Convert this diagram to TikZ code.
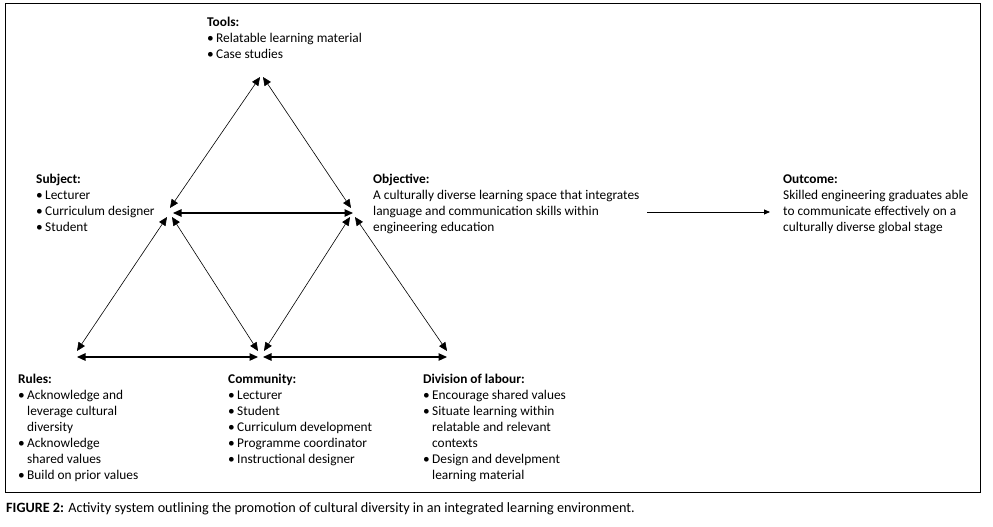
\documentclass[tikz,border=0pt]{standalone}
\usepackage{fontspec}
\setmainfont{Carlito}
\usetikzlibrary{arrows.meta}
\newcommand\bitem{\makebox[9pt][l]{\textbullet}}
\newcommand\bcont{\hspace*{9pt}}
\begin{document}
\begin{tikzpicture}[x=1pt,y=-1pt,
  txt/.style={anchor=base west,inner sep=0pt,font=\fontsize{13.35}{16}\selectfont},
  dline/.style={line width=0.6pt,{Triangle[length=8.5pt,width=7.5pt]}-{Triangle[length=8.5pt,width=7.5pt]}},
  hline/.style={line width=1.1pt,{Triangle[length=8.5pt,width=7.5pt]}-{Triangle[length=8.5pt,width=7.5pt]}},
  oline/.style={line width=0.8pt,-{Triangle[length=6pt,width=5pt]}},
]
\useasboundingbox (0,0) rectangle (993,527);
\draw[line width=1pt] (5,4) rectangle (980,492);

% text blocks
\node[txt] (tools) at (207,27) {\begin{tabular}[t]{@{}l@{}}\textbf{Tools:}\\
\bitem Relatable learning material\\
\bitem Case studies\end{tabular}};

\node[txt] (subject) at (36,183) {\begin{tabular}[t]{@{}l@{}}\textbf{Subject:}\\
\bitem Lecturer\\
\bitem Curriculum designer\\
\bitem Student\end{tabular}};

\node[txt] (objective) at (373,183) {\begin{tabular}[t]{@{}l@{}}\textbf{Objective:}\\
A culturally diverse learning space that integrates\\
language and communication skills within\\
engineering education\end{tabular}};

\node[txt] (outcome) at (783,183) {\begin{tabular}[t]{@{}l@{}}\textbf{Outcome:}\\
Skilled engineering graduates able\\
to communicate effectively on a\\
culturally diverse global stage\end{tabular}};

\node[txt] (rules) at (18,383) {\begin{tabular}[t]{@{}l@{}}\textbf{Rules:}\\
\bitem Acknowledge and\\
\bcont leverage cultural\\
\bcont diversity\\
\bitem Acknowledge\\
\bcont shared values\\
\bitem Build on prior values\end{tabular}};

\node[txt] (community) at (228,383) {\begin{tabular}[t]{@{}l@{}}\textbf{Community:}\\
\bitem Lecturer\\
\bitem Student\\
\bitem Curriculum development\\
\bitem Programme coordinator\\
\bitem Instructional designer\end{tabular}};

\node[txt] (division) at (423,383) {\begin{tabular}[t]{@{}l@{}}\textbf{Division of labour:}\\
\bitem Encourage shared values\\
\bitem Situate learning within\\
\bcont relatable and relevant\\
\bcont contexts\\
\bitem Design and develpment\\
\bcont learning material\end{tabular}};

\node[anchor=base west,inner sep=0pt,font=\fontsize{14.2}{16}\selectfont] (caption) at (6,512)
  {\textbf{FIGURE 2:} Activity system outlining the promotion of cultural diversity in an integrated learning environment.};

% vertex coordinates
\coordinate (toolsL) at (260,77);
\coordinate (toolsR) at (263,77);
\coordinate (subjT) at (170,208);
\coordinate (subjH) at (173,213);
\coordinate (subjBL) at (167,217);
\coordinate (subjBR) at (172,217);
\coordinate (objT) at (351,208);
\coordinate (objH) at (353,213);
\coordinate (objBL) at (350,217);
\coordinate (objBR) at (355,217);
\coordinate (rulesT) at (77,351);
\coordinate (rulesH) at (77,357);
\coordinate (commTL) at (258,351);
\coordinate (commTR) at (264,351);
\coordinate (commHL) at (258,357);
\coordinate (commHR) at (263,357);
\coordinate (divT) at (447,351);
\coordinate (divH) at (447,357);
\coordinate (objOut) at (647,212);
\coordinate (outIn) at (770,212);

% connectors
\draw[dline] (toolsL) -- (subjT);
\draw[dline] (toolsR) -- (objT);
\draw[hline] (subjH) -- (objH);
\draw[dline] (subjBL) -- (rulesT);
\draw[dline] (subjBR) -- (commTL);
\draw[dline] (objBL) -- (commTR);
\draw[dline] (objBR) -- (divT);
\draw[hline] (rulesH) -- (commHL);
\draw[hline] (commHR) -- (divH);
\draw[oline] (objOut) -- (outIn);
\end{tikzpicture}
\end{document}
